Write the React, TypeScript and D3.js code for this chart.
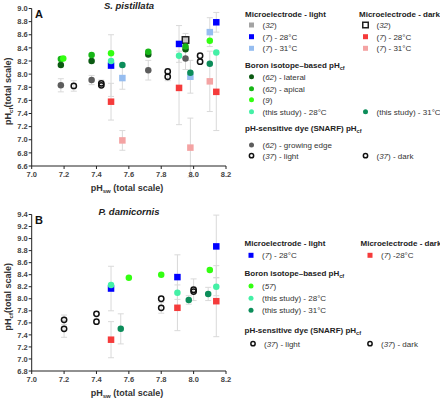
import React from "react";
import * as d3 from "d3";

type Pt = { x: number; y: number; e?: number };

// ---------- Panel A data (S. pistillata) ----------
const A_microLight32: Pt[] = [{ x: 7.95, y: 8.52 }];
const A_microLight28: Pt[] = [
  { x: 7.49, y: 8.13, e: 0.47 },
  { x: 7.91, y: 8.46, e: 0.28 },
  { x: 8.14, y: 8.79, e: 0.15 },
];
const A_microLight31: Pt[] = [
  { x: 7.56, y: 7.94, e: 0.17 },
  { x: 7.98, y: 7.96, e: 0.25 },
  { x: 8.1, y: 8.64, e: 0.22 },
];
const A_microDark32: Pt[] = [{ x: 7.95, y: 8.52, e: 0.1 }];
const A_microDark28: Pt[] = [
  { x: 7.49, y: 7.58, e: 0.28 },
  { x: 7.91, y: 7.79, e: 0.56 },
  { x: 8.14, y: 7.73, e: 0.59 },
];
const A_microDark31: Pt[] = [
  { x: 7.56, y: 6.99, e: 0.15 },
  { x: 7.98, y: 6.88, e: 0.45 },
  { x: 8.1, y: 7.89, e: 0.46 },
];
const A_boronLateral: Pt[] = [
  { x: 7.18, y: 8.14 },
  { x: 7.37, y: 8.2 },
  { x: 7.72, y: 8.3 },
  { x: 7.95, y: 8.38 },
];
const A_boronApical: Pt[] = [
  { x: 7.18, y: 8.23 },
  { x: 7.37, y: 8.29 },
  { x: 7.72, y: 8.34 },
  { x: 7.95, y: 8.42 },
];
const A_boron9: Pt[] = [
  { x: 7.195, y: 8.24 },
  { x: 7.49, y: 8.32 },
  { x: 8.1, y: 8.51 },
];
const A_boronStudy28: Pt[] = [
  { x: 7.49, y: 8.2 },
  { x: 7.91, y: 8.28 },
  { x: 8.14, y: 8.33 },
];
const A_boronStudy31: Pt[] = [
  { x: 7.56, y: 8.14 },
  { x: 7.98, y: 8.02 },
  { x: 8.1, y: 8.16 },
];
const A_snarfEdge: Pt[] = [
  { x: 7.18, y: 7.83, e: 0.1 },
  { x: 7.37, y: 7.91, e: 0.07 },
  { x: 7.72, y: 8.06, e: 0.15 },
  { x: 7.95, y: 8.24, e: 0.17 },
];
const A_snarfLight: Pt[] = [
  { x: 7.26, y: 7.82, e: 0.08 },
  { x: 7.43, y: 7.86, e: 0.05 },
  { x: 7.84, y: 8.04 },
  { x: 8.04, y: 8.28 },
];
const A_snarfDark: Pt[] = [
  { x: 7.43, y: 7.83 },
  { x: 7.84, y: 7.96, e: 0.06 },
  { x: 8.04, y: 8.19 },
];

// ---------- Panel B data (P. damicornis) ----------
const B_microLight28: Pt[] = [
  { x: 7.49, y: 8.17, e: 0.37 },
  { x: 7.9, y: 8.36, e: 0.37 },
  { x: 8.14, y: 8.87, e: 0.52 },
];
const B_microDark28: Pt[] = [
  { x: 7.49, y: 7.32, e: 0.3 },
  { x: 7.9, y: 7.85, e: 0.38 },
  { x: 8.14, y: 7.96, e: 0.59 },
];
const B_boron57: Pt[] = [
  { x: 7.6, y: 8.35 },
  { x: 7.8, y: 8.4 },
  { x: 8.1, y: 8.48 },
];
const B_boronStudy28: Pt[] = [
  { x: 7.49, y: 8.23 },
  { x: 7.9, y: 8.1 },
  { x: 8.14, y: 8.2, e: 0.15 },
];
const B_boronStudy31: Pt[] = [
  { x: 7.55, y: 7.5, e: 0.25 },
  { x: 7.97, y: 7.98, e: 0.07 },
  { x: 8.09, y: 8.08, e: 0.11 },
];
const B_snarfLight: Pt[] = [
  { x: 7.2, y: 7.65, e: 0.08 },
  { x: 7.4, y: 7.75 },
  { x: 7.8, y: 8.0 },
  { x: 8.0, y: 8.15, e: 0.18 },
];
const B_snarfDark: Pt[] = [
  { x: 7.2, y: 7.5, e: 0.14 },
  { x: 7.4, y: 7.62 },
  { x: 7.8, y: 7.85, e: 0.09 },
  { x: 8.0, y: 8.12 },
];

// ---------- ticks ----------
const xTicks = [7.0, 7.2, 7.4, 7.6, 7.8, 8.0, 8.2];
const yTicksA = [6.6, 6.8, 7.0, 7.2, 7.4, 7.6, 7.8, 8.0, 8.2, 8.4, 8.6, 8.8, 9.0];
const yTicksB = [6.8, 7.0, 7.2, 7.4, 7.6, 7.8, 8.0, 8.2, 8.4, 8.6, 8.8, 9.0, 9.2, 9.4];

// ---------- styles ----------
type Sty = { shape: "sq" | "circ"; fill: string; stroke?: string; sw?: number };
const S: Record<string, Sty> = {
  grayLightSq: { shape: "sq", fill: "#a3a3a3" },
  blueSq: { shape: "sq", fill: "#0000ff" },
  lightBlueSq: { shape: "sq", fill: "#96bdf0" },
  openSq: { shape: "sq", fill: "#c8c8c8", stroke: "#222", sw: 1.5 },
  redSq: { shape: "sq", fill: "#f53b3b" },
  pinkSq: { shape: "sq", fill: "#f4a3a3" },
  lateral: { shape: "circ", fill: "#0b5a12" },
  apical: { shape: "circ", fill: "#17b617" },
  boron9: { shape: "circ", fill: "#33ff11" },
  study28: { shape: "circ", fill: "#44f0a6" },
  study31: { shape: "circ", fill: "#0c8d5a" },
  snarfEdge: { shape: "circ", fill: "#5d5d5d" },
  openCirc: { shape: "circ", fill: "none", stroke: "#111", sw: 1.5 },
};

const FONT = "'Liberation Sans', Arial, sans-serif";
const ERR = "#d9d9d9";

type Series = { data: Pt[]; sty: Sty };

const seriesA: Series[] = [
  { data: A_microLight32, sty: S.grayLightSq },
  { data: A_microDark32, sty: S.openSq },
  { data: A_microDark28, sty: S.redSq },
  { data: A_microDark31, sty: S.pinkSq },
  { data: A_snarfEdge, sty: S.snarfEdge },
  { data: A_snarfLight, sty: S.openCirc },
  { data: A_snarfDark, sty: S.openCirc },
  { data: A_microLight31, sty: S.lightBlueSq },
  { data: A_microLight28, sty: S.blueSq },
  { data: A_boronLateral, sty: S.lateral },
  { data: A_boronApical, sty: S.apical },
  { data: A_boron9, sty: S.boron9 },
  { data: A_boronStudy28, sty: S.study28 },
  { data: A_boronStudy31, sty: S.study31 },
];

const seriesB: Series[] = [
  { data: B_microDark28, sty: S.redSq },
  { data: B_snarfLight, sty: S.openCirc },
  { data: B_snarfDark, sty: S.openCirc },
  { data: B_microLight28, sty: S.blueSq },
  { data: B_boron57, sty: S.boron9 },
  { data: B_boronStudy28, sty: S.study28 },
  { data: B_boronStudy31, sty: S.study31 },
];

function Marker({ cx, cy, sty, size }: { cx: number; cy: number; sty: Sty; size: number }) {
  if (sty.shape === "sq") {
    const h = size / 2;
    return (
      <rect
        x={cx - h}
        y={cy - h}
        width={size}
        height={size}
        fill={sty.fill}
        stroke={sty.stroke || "none"}
        strokeWidth={sty.sw || 0}
      />
    );
  }
  return (
    <circle
      cx={cx}
      cy={cy}
      r={sty.stroke ? size / 2 - 0.6 : size / 2}
      fill={sty.fill}
      stroke={sty.stroke || "none"}
      strokeWidth={sty.sw || 0}
    />
  );
}

function Panel({
  series,
  yDomain,
  yTicks,
  top,
  bottom,
  letter,
  title,
}: {
  series: Series[];
  yDomain: [number, number];
  yTicks: number[];
  top: number;
  bottom: number;
  letter: string;
  title: string;
}) {
  const x = d3.scaleLinear().domain([7.0, 8.2]).range([31.7, 226]);
  const y = d3.scaleLinear().domain(yDomain).range([bottom, top]);
  const left = x(7.0);
  const fmt = d3.format(".1f");
  const capW = 3;
  return (
    <g>
      {/* error bars */}
      {series.map((s, si) =>
        s.data
          .filter((d) => d.e)
          .map((d, i) => (
            <g key={`e${si}-${i}`} stroke={ERR} strokeWidth={1}>
              <line x1={x(d.x)} x2={x(d.x)} y1={y(d.y - (d.e as number))} y2={y(d.y + (d.e as number))} />
              <line x1={x(d.x) - capW} x2={x(d.x) + capW} y1={y(d.y + (d.e as number))} y2={y(d.y + (d.e as number))} />
              <line x1={x(d.x) - capW} x2={x(d.x) + capW} y1={y(d.y - (d.e as number))} y2={y(d.y - (d.e as number))} />
            </g>
          ))
      )}
      {/* markers */}
      {series.map((s, si) =>
        s.data.map((d, i) => (
          <Marker key={`m${si}-${i}`} cx={x(d.x)} cy={y(d.y)} sty={s.sty} size={6.5} />
        ))
      )}
      {/* axes */}
      <line x1={left} x2={left} y1={y(yDomain[1])} y2={bottom} stroke="#222" strokeWidth={1} />
      <line x1={left} x2={x(8.2)} y1={bottom} y2={bottom} stroke="#222" strokeWidth={1} />
      {yTicks.map((t) => (
        <g key={`yt${t}`}>
          <line x1={left - 3} x2={left} y1={y(t)} y2={y(t)} stroke="#222" />
          <text
            x={left - 4}
            y={y(t)}
            dy="0.35em"
            textAnchor="end"
            fontSize={7.5}
            fontWeight="bold"
            fill="#444"
            fontFamily={FONT}
          >
            {fmt(t)}
          </text>
        </g>
      ))}
      {xTicks.map((t) => (
        <g key={`xt${t}`}>
          <line x1={x(t)} x2={x(t)} y1={bottom} y2={bottom + 3} stroke="#222" />
          <text
            x={x(t)}
            y={bottom + 10.5}
            textAnchor="middle"
            fontSize={7.5}
            fontWeight="bold"
            fill="#444"
            fontFamily={FONT}
          >
            {fmt(t)}
          </text>
        </g>
      ))}
      {/* axis titles */}
      <text
        x={127}
        y={bottom + 25}
        textAnchor="middle"
        fontSize={9}
        fontWeight="bold"
        fill="#333"
        fontFamily={FONT}
      >
        pH
        <tspan fontSize={6} dy={2}>
          sw
        </tspan>
        <tspan dy={-2}> (total scale)</tspan>
      </text>
      <text
        transform={`translate(11,${(top + bottom) / 2 + 4}) rotate(-90)`}
        textAnchor="middle"
        fontSize={9}
        fontWeight="bold"
        fill="#333"
        fontFamily={FONT}
      >
        pH
        <tspan fontSize={6} dy={2}>
          cf
        </tspan>
        <tspan dy={-2}>(total scale)</tspan>
      </text>
      <text x={129} y={top + 0} textAnchor="middle" fontSize={9.5} fontWeight="bold" fontStyle="italic" fill="#222" fontFamily={FONT}>
        {title}
      </text>
      <text x={35} y={top + 9} fontSize={11} fontWeight="bold" fill="#111" fontFamily={FONT}>
        {letter}
      </text>
    </g>
  );
}

type LegItem = { sty: Sty; ref?: string; label: string; x: number; y: number };

function LegendText({ item }: { item: LegItem }) {
  return (
    <text x={item.x + 11} y={item.y} dy="0.35em" fontSize={8} fill="#333" fontFamily={FONT}>
      {item.ref ? (
        <>
          (<tspan fontStyle="italic">{item.ref}</tspan>){item.label}
        </>
      ) : (
        item.label
      )}
    </text>
  );
}

function Header({ x, y, text, sub }: { x: number; y: number; text: string; sub?: string }) {
  return (
    <text x={x} y={y} dy="0.35em" fontSize={8} fontWeight="bold" fill="#222" fontFamily={FONT}>
      {text}
      {sub ? (
        <tspan fontSize={5.5} dy={2}>
          {sub}
        </tspan>
      ) : null}
    </text>
  );
}

function Legend({ items, headers }: { items: LegItem[]; headers: { x: number; y: number; text: string; sub?: string }[] }) {
  return (
    <g>
      {headers.map((h, i) => (
        <Header key={`h${i}`} {...h} />
      ))}
      {items.map((it, i) => (
        <g key={`li${i}`}>
          <Marker cx={it.x} cy={it.y} sty={it.sty} size={it.sty.stroke ? 5.5 : 5} />
          <LegendText item={it} />
        </g>
      ))}
    </g>
  );
}

const L1 = 251.5;
const L2 = 365.5;

const legendA_headers = [
  { x: 245, y: 14.5, text: "Microelectrode - light" },
  { x: 359, y: 14.5, text: "Microelectrode - dark" },
  { x: 245, y: 65.5, text: "Boron isotope–based pH", sub: "cf" },
  { x: 245, y: 128, text: "pH-sensitive dye (SNARF) pH", sub: "cf" },
];
const legendA_items: LegItem[] = [
  { sty: S.grayLightSq, ref: "32", label: "", x: L1, y: 25 },
  { sty: S.blueSq, ref: "7", label: " - 28°C", x: L1, y: 36.7 },
  { sty: S.lightBlueSq, ref: "7", label: " - 31°C", x: L1, y: 48.3 },
  { sty: { ...S.openSq, fill: "none" }, ref: "32", label: "", x: L2, y: 25 },
  { sty: S.redSq, ref: "7", label: " - 28°C", x: L2, y: 36.7 },
  { sty: S.pinkSq, ref: "7", label: " - 31°C", x: L2, y: 48.3 },
  { sty: S.lateral, ref: "62", label: " - lateral", x: L1, y: 76.7 },
  { sty: S.apical, ref: "62", label: " - apical", x: L1, y: 88.7 },
  { sty: S.boron9, ref: "9", label: "", x: L1, y: 99.8 },
  { sty: S.study28, label: "(this study) - 28°C", x: L1, y: 111.7 },
  { sty: S.study31, label: "(this study) - 31°C", x: L2, y: 111.7 },
  { sty: S.snarfEdge, ref: "62", label: " - growing edge", x: L1, y: 145 },
  { sty: S.openCirc, ref: "37", label: " - light", x: L1, y: 155.7 },
  { sty: S.openCirc, ref: "37", label: " - dark", x: L2, y: 155.7 },
];

const legendB_headers = [
  { x: 244.5, y: 242.7, text: "Microelectrode - light" },
  { x: 360.5, y: 242.7, text: "Microelectrode - dark" },
  { x: 244.5, y: 272.7, text: "Boron isotope–based pH", sub: "cf" },
  { x: 244.5, y: 330, text: "pH-sensitive dye (SNARF) pH", sub: "cf" },
];
const legendB_items: LegItem[] = [
  { sty: S.blueSq, ref: "7", label: " - 28°C", x: 251, y: 255.3 },
  { sty: S.redSq, ref: "7", label: " -28°C", x: 370, y: 255.3 },
  { sty: S.boron9, ref: "57", label: "", x: 251, y: 286 },
  { sty: S.study28, label: "(this study) - 28°C", x: 251, y: 298.3 },
  { sty: S.study31, label: "(this study) - 31°C", x: 251, y: 310.3 },
  { sty: S.openCirc, ref: "37", label: " - light", x: 253, y: 343.7 },
  { sty: S.openCirc, ref: "37", label: " - dark", x: 370, y: 343.7 },
];

export default function App() {
  return (
    <svg
      width={440}
      height={401}
      viewBox="0 0 440 401"
      style={{ position: "absolute", left: 0, top: 0, background: "#fff" }}
    >
      <rect width={440} height={401} fill="#fff" />
      <Panel
        series={seriesA}
        yDomain={[6.6, 9.0]}
        yTicks={yTicksA}
        top={8.5}
        bottom={166}
        letter="A"
        title="S. pistillata"
      />
      <Panel
        series={seriesB}
        yDomain={[6.8, 9.4]}
        yTicks={yTicksB}
        top={214.5}
        bottom={371}
        letter="B"
        title="P. damicornis"
      />
      <Legend items={legendA_items} headers={legendA_headers} />
      <Legend items={legendB_items} headers={legendB_headers} />
    </svg>
  );
}
